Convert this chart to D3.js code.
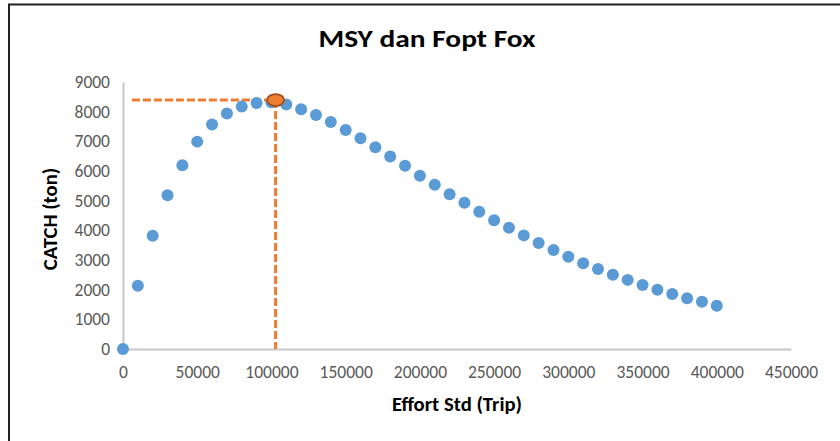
<!DOCTYPE html>
<html>
<head>
<meta charset="utf-8">
<script src="https://cdn.jsdelivr.net/npm/d3@7"></script>
<style>
  body { margin: 0; background: #fff; }
  svg { display: block; font-family: Calibri, Carlito, "Open Sans", sans-serif; }
</style>
</head>
<body>
<svg id="chart"></svg>
<script>
// effort (trip) vs catch (ton)
var effort = [0, 10000, 20000, 30000, 40000, 50000, 60000, 70000, 80000, 90000,
              100000, 110000, 120000, 130000, 140000, 150000, 160000, 170000, 180000, 190000,
              200000, 210000, 220000, 230000, 240000, 250000, 260000, 270000, 280000, 290000,
              300000, 310000, 320000, 330000, 340000, 350000, 360000, 370000, 380000, 390000, 400000]
var catchTon = [0, 2130, 3820, 5180, 6190, 6990, 7570, 7940, 8170, 8290,
                8320, 8240, 8080, 7890, 7650, 7380, 7100, 6800, 6490, 6180,
                5840, 5540, 5220, 4930, 4630, 4340, 4090, 3830, 3570, 3340,
                3110, 2890, 2700, 2500, 2330, 2160, 2000, 1850, 1710, 1590, 1460]

// MSY / Fopt point
var fopt = 102800
var msy = 8390
var hLineStart = 6000

var xTicks = [0, 50000, 100000, 150000, 200000, 250000, 300000, 350000, 400000, 450000]
var yTicks = [0, 1000, 2000, 3000, 4000, 5000, 6000, 7000, 8000, 9000]

var width = 840, height = 441

var svg = d3.select("#chart")
            .attr("width", width)
            .attr("height", height)

var xScale = d3.scaleLinear()
               .domain([0, 450000])
               .range([123, 791])

var yScale = d3.scaleLinear()
               .domain([0, 9000])
               .range([349, 82])

// outer frame (only top and left edges show in the crop)
svg.append("path")
   .attr("d", "M9,441 V4.5 H840")
   .attr("fill", "none")
   .attr("stroke", "#222")
   .attr("stroke-width", 2)

// axes
var xAxis = svg.append("g")
               .attr("transform", `translate(0,${yScale(0)})`)
               .call(d3.axisBottom(xScale).tickValues(xTicks).tickSize(0).tickPadding(17).tickFormat(d3.format("d")))
var yAxis = svg.append("g")
               .attr("transform", `translate(${xScale(0)},0)`)
               .call(d3.axisLeft(yScale).tickValues(yTicks).tickSize(0).tickPadding(13).tickFormat(d3.format("d")))

svg.selectAll(".domain")
   .attr("stroke", "#c8c8c8")
   .attr("stroke-width", 2)
svg.selectAll(".tick text")
   .attr("fill", "#595959")
   .style("font-size", "17.5px")
   .style("font-family", "Calibri, Carlito, 'Open Sans', sans-serif")

// dashed guide lines
var guideLine = d3.line()
                  .x(d => xScale(d[0]))
                  .y(d => yScale(d[1]))

svg.append("path")
   .attr("d", guideLine([[hLineStart, msy], [fopt, msy]]))
   .attr("fill", "none")
   .attr("stroke", "#ED7D31")
   .attr("stroke-width", 3)
   .attr("stroke-dasharray", "8,3")

svg.append("path")
   .attr("d", guideLine([[fopt, msy], [fopt, 0]]))
   .attr("fill", "none")
   .attr("stroke", "#ED7D31")
   .attr("stroke-width", 3)
   .attr("stroke-dasharray", "8,3")

// scatter points
svg.selectAll("circle.pt")
   .data(effort)
   .join("circle")
   .attr("class", "pt")
   .attr("cx", d => xScale(d))
   .attr("cy", (d, i) => yScale(catchTon[i]))
   .attr("r", 6)
   .attr("fill", "#5B9BD5")

// MSY marker
svg.append("ellipse")
   .attr("cx", xScale(fopt))
   .attr("cy", yScale(msy))
   .attr("rx", 8.5)
   .attr("ry", 6)
   .attr("fill", "#ED7D31")
   .attr("stroke", "#9E4F1B")
   .attr("stroke-width", 1.8)

// titles
svg.append("text")
   .attr("text-anchor", "middle")
   .attr("x", 427)
   .attr("y", 47)
   .attr("textLength", 217)
   .attr("lengthAdjust", "spacingAndGlyphs")
   .style("font-size", "25px")
   .style("font-weight", "bold")
   .attr("fill", "#000")
   .text("MSY dan Fopt Fox")

svg.append("text")
   .attr("text-anchor", "middle")
   .attr("x", 457)
   .attr("y", 411)
   .style("font-size", "20.7px")
   .style("font-weight", "bold")
   .text("Effort Std (Trip)")

svg.append("text")
   .attr("text-anchor", "middle")
   .attr("transform", "translate(57,219) rotate(-90)")
   .style("font-size", "20.7px")
   .style("font-weight", "bold")
   .text("CATCH (ton)")
</script>
</body>
</html>
